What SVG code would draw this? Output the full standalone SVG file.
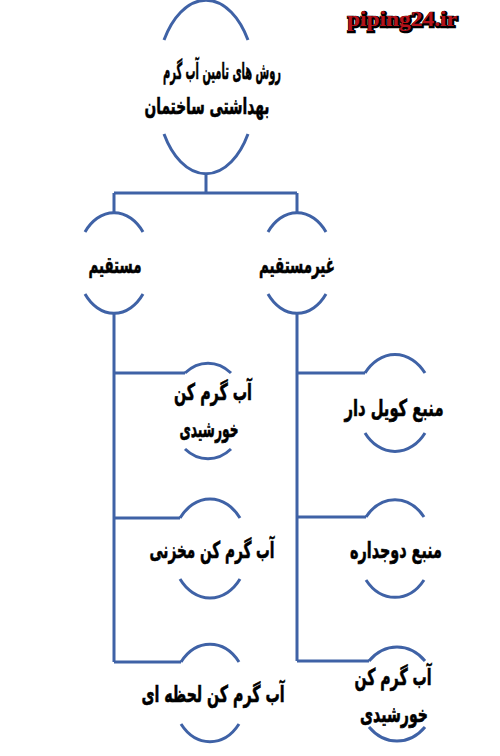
<svg xmlns="http://www.w3.org/2000/svg" width="500" height="756" viewBox="0 0 500 756">
<style>
.ln{fill:none;stroke:#3f62a6;stroke-width:3;stroke-linecap:butt}
.t{font-family:"DejaVu Sans",sans-serif;font-weight:bold;font-size:23px;fill:#000;stroke:#000;stroke-width:0.6;text-anchor:middle}
.wm{font-family:"Liberation Serif",serif;font-weight:bold;font-size:21px}
</style>
<rect width="500" height="756" fill="#fff"/>
<g id="watermark">
<text class="wm" x="403" y="27" text-anchor="middle" fill="#000" stroke="#000" stroke-width="2.5" textLength="110" lengthAdjust="spacingAndGlyphs">piping24.ir</text>
<text class="wm" x="402" y="26" text-anchor="middle" fill="#b5121b" textLength="110" lengthAdjust="spacingAndGlyphs">piping24.ir</text>
</g>
<g id="connectors">
<path class="ln" d="M206,174V193M114,193H297M114,193V212M297,193V212"/>
<path class="ln" d="M114,314V662M114,373H185M114,518H180M114,662H181"/>
<path class="ln" d="M297,314V661M297,373H365M297,517H366M297,661H369"/>
</g>
<g id="root">
<path class="ln" d="M164,40A50,87 0 0 1 248,40M164,134A50,87 0 0 0 248,134"/>
<text class="t" x="222" y="79" textLength="118" lengthAdjust="spacingAndGlyphs">روش های تامین آب گرم</text>
<text class="t" x="207" y="114" textLength="125" lengthAdjust="spacingAndGlyphs">بهداشتی ساختمان</text>
</g>
<g id="direct">
<path class="ln" d="M85,232A37,51 0 0 1 143,232M85,294A37,51 0 0 0 143,294"/>
<text class="t" x="115" y="273" textLength="53" lengthAdjust="spacingAndGlyphs">مستقیم</text>
</g>
<g id="indirect">
<path class="ln" d="M268,232A37,51 0 0 1 326,232M268,294A37,51 0 0 0 326,294"/>
<text class="t" x="297" y="273" textLength="76" lengthAdjust="spacingAndGlyphs">غیرمستقیم</text>
</g>
<g id="solar-left">
<path class="ln" d="M185,373A38,48 0 0 1 231,373M185,449A38,48 0 0 0 231,449"/>
<text class="t" x="213" y="400" textLength="78" lengthAdjust="spacingAndGlyphs">آب گرم کن</text>
<text class="t" x="209" y="437" textLength="59" lengthAdjust="spacingAndGlyphs">خورشیدی</text>
</g>
<g id="storage">
<path class="ln" d="M180,518A38,49 0 0 1 240,518M180,579A38,49 0 0 0 240,579"/>
<text class="t" x="212" y="558" textLength="125" lengthAdjust="spacingAndGlyphs">آب گرم کن مخزنی</text>
</g>
<g id="instant">
<path class="ln" d="M181,662A38,50 0 0 1 239,662M181,724A38,50 0 0 0 239,724"/>
<text class="t" x="213" y="702" textLength="143" lengthAdjust="spacingAndGlyphs">آب گرم کن لحظه ای</text>
</g>
<g id="coil">
<path class="ln" d="M365,373A38,48 0 0 1 425,373M365,433A38,48 0 0 0 425,433"/>
<text class="t" x="394" y="416" textLength="99" lengthAdjust="spacingAndGlyphs">منبع کویل دار</text>
</g>
<g id="double-wall">
<path class="ln" d="M366,517A38,49 0 0 1 424,517M366,580A38,49 0 0 0 424,580"/>
<text class="t" x="396" y="558" textLength="92" lengthAdjust="spacingAndGlyphs">منبع دوجداره</text>
</g>
<g id="solar-right">
<path class="ln" d="M369,661A40,49 0 0 1 425,661M369,727A40,49 0 0 0 425,727"/>
<text class="t" x="393" y="685" textLength="77" lengthAdjust="spacingAndGlyphs">آب گرم کن</text>
<text class="t" x="394" y="722" textLength="68" lengthAdjust="spacingAndGlyphs">خورشیدی</text>
</g>
</svg>
